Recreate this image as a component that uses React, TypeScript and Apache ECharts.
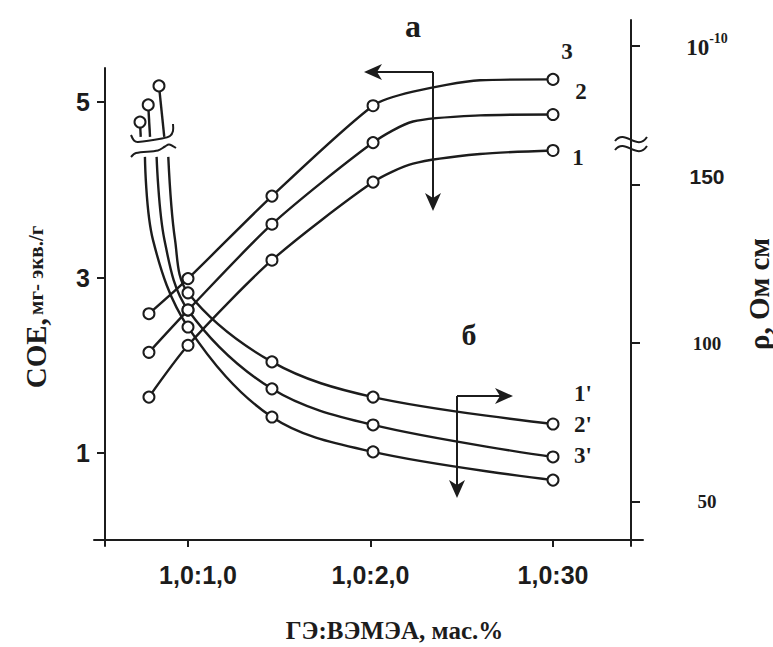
import React, { useEffect, useRef } from 'react';
import * as echarts from 'echarts';

// ---- axis ticks / labels ----
const xTickValues = [1, 2, 3];
const xTickLabels = ['1,0:1,0', '1,0:2,0', '1,0:30'];
const coeTicks = [1, 3, 5];
const rhoTicks = [50, 100, 150];
const rhoBreakTick = 194; // "10^-10" mark above the axis break

// ---- curves "а": СОЕ (left axis) ----
const coeX = [0.786, 1.0, 1.46, 2.014, 2.233, 2.6, 3.0];
const coeMarked = [true, true, true, true, false, false, true];
const coe1 = [1.64, 2.23, 3.2, 4.09, 4.3, 4.41, 4.45];
const coe2 = [2.15, 2.63, 3.61, 4.54, 4.78, 4.85, 4.86];
const coe3 = [2.59, 2.99, 3.93, 4.96, 5.12, 5.25, 5.26];

// ---- curves "б": ρ (right axis), part below the break ----
const rho1X = [0.892, 0.929, 1.0, 1.46, 2.014, 3.0];
const rho1 = [158.8, 132.6, 115.9, 94.1, 83.0, 74.5];
const rho2X = [0.828, 0.871, 1.0, 1.46, 2.014, 3.0];
const rho2 = [158.8, 132.6, 110.5, 85.6, 74.2, 64.1];
const rho3X = [0.764, 0.808, 1.0, 1.46, 2.014, 3.0];
const rho3 = [158.8, 132.6, 105.1, 76.7, 65.7, 56.8];
// part above the break (first point is the measured one)
const rho1TopX = [0.841, 0.87];
const rho1Top = [181.2, 165.1];
const rho2TopX = [0.782, 0.792];
const rho2Top = [175.2, 165.1];
const rho3TopX = [0.737, 0.741];
const rho3Top = [169.8, 165.1];

const INK = '#1c1c1c';
const SERIF = '"Liberation Serif", "DejaVu Serif", serif';
const SANS = '"Liberation Sans", Arial, sans-serif';

const lineBase = {
  type: 'line',
  symbol: 'circle',
  symbolSize: 11,
  showAllSymbol: true,
  lineStyle: { color: INK, width: 2.4 },
  itemStyle: { color: '#fff', borderColor: INK, borderWidth: 2 },
  emphasis: { disabled: true },
  z: 3,
};

function coeSeries(name: string, ys: number[]) {
  return {
    ...lineBase,
    name,
    xAxisIndex: 0,
    yAxisIndex: 0,
    smooth: 0.25,
    data: coeX.map((x, i) => (coeMarked[i] ? [x, ys[i]] : { value: [x, ys[i]], symbol: 'none' })),
  };
}

function rhoLow(name: string, xs: number[], ys: number[]) {
  return {
    ...lineBase,
    name,
    xAxisIndex: 1,
    yAxisIndex: 1,
    smooth: 0.35,
    data: xs.map((x, i) => (i < 2 ? { value: [x, ys[i]], symbol: 'none' } : [x, ys[i]])),
  };
}

function rhoTop(name: string, xs: number[], ys: number[]) {
  return {
    ...lineBase,
    name,
    xAxisIndex: 1,
    yAxisIndex: 1,
    data: xs.map((x, i) => (i > 0 ? { value: [x, ys[i]], symbol: 'none' } : [x, ys[i]])),
  };
}

const txt = (text: string, x: number, y: number, size: number, font = SERIF) => ({
  type: 'text',
  x,
  y,
  style: {
    text,
    fontFamily: font,
    fontWeight: 'bold',
    fontSize: size,
    fill: INK,
    align: 'center',
    verticalAlign: 'middle',
  },
  z: 10,
});

const seg = (x1: number, y1: number, x2: number, y2: number, w = 2) => ({
  type: 'line',
  shape: { x1, y1, x2, y2 },
  style: { stroke: INK, lineWidth: w },
  z: 10,
});

const head = (pts: number[][]) => ({
  type: 'polygon',
  shape: { points: pts },
  style: { fill: INK },
  z: 10,
});

export default function App() {
  const ref = useRef<HTMLDivElement>(null);

  useEffect(() => {
    if (!ref.current) return;
    const chart = echarts.init(ref.current, undefined, { renderer: 'svg' });

    const xMinIn = 0.5452;
    const xMaxIn = 3.4274;
    const xLabelStyle = { fontFamily: SANS, fontWeight: 'bold', fontSize: 25, color: INK };

    const option: any = {
      animation: false,
      backgroundColor: '#fff',
      grid: [
        { left: 105, top: 68, width: 526, height: 478, outerBoundsMode: 'none' },
        { left: 105, top: 20, width: 526, height: 526, outerBoundsMode: 'none' },
        { left: 94, top: 20, width: 549, height: 520, outerBoundsMode: 'none' },
      ],
      xAxis: [
        { type: 'value', gridIndex: 0, min: xMinIn, max: xMaxIn, show: false },
        { type: 'value', gridIndex: 1, min: xMinIn, max: xMaxIn, show: false },
        {
          type: 'value',
          gridIndex: 2,
          min: 0.4849,
          max: 3.4932,
          axisLine: { onZero: false, lineStyle: { color: INK, width: 2 } },
          axisTick: { customValues: xTickValues, length: 7, lineStyle: { color: INK, width: 2 } },
          axisLabel: {
            customValues: xTickValues,
            formatter: (v: number) => {
              const i = xTickValues.indexOf(Math.round(v));
              if (i < 0) return '';
              return (i === 0 ? '{f|' : '{n|') + xTickLabels[i] + '}';
            },
            margin: 22,
            rich: {
              f: { ...xLabelStyle, padding: [0, 0, 0, 20] },
              n: { ...xLabelStyle },
            },
          },
          splitLine: { show: false },
          name: 'ГЭ:ВЭМЭА, мас.%',
          nameLocation: 'middle',
          nameGap: 78,
          nameTextStyle: {
            color: INK,
            fontFamily: SERIF,
            fontWeight: 'bold',
            fontSize: 25,
            padding: [0, 0, 0, 52],
          },
        },
      ],
      yAxis: [
        {
          type: 'value',
          gridIndex: 0,
          position: 'left',
          min: -0.057,
          max: 5.39,
          axisLine: { show: true, onZero: false, lineStyle: { color: INK, width: 2 } },
          axisTick: { show: true, customValues: coeTicks, length: 8, lineStyle: { color: INK, width: 2 } },
          axisLabel: {
            customValues: coeTicks,
            margin: 15,
            color: INK,
            fontFamily: SANS,
            fontWeight: 'bold',
            fontSize: 25,
          },
          splitLine: { show: false },
          name: '{big|СОЕ,} {small|мг- экв./г}',
          nameLocation: 'middle',
          nameRotate: 90,
          nameGap: 55,
          nameTextStyle: {
            rich: {
              big: { fontFamily: SERIF, fontWeight: 'bold', fontSize: 29, color: INK },
              small: { fontFamily: SERIF, fontWeight: 'bold', fontSize: 21, color: INK },
            },
          },
        },
        {
          type: 'value',
          gridIndex: 1,
          position: 'right',
          min: 36,
          max: 202,
          axisLine: { show: true, onZero: false, lineStyle: { color: INK, width: 2 } },
          axisTick: {
            show: true,
            customValues: [...rhoTicks, rhoBreakTick],
            length: 9,
            lineStyle: { color: INK, width: 2 },
          },
          axisLabel: {
            customValues: [...rhoTicks, rhoBreakTick],
            margin: 76,
            align: 'center',
            formatter: (v: number) => {
              if (Math.abs(v - rhoBreakTick) < 0.5) return '{e|10}{sup|-10}';
              if (Math.abs(v - 150) < 0.5) return '{s|150}';
              return '{t|' + v + '}';
            },
            rich: {
              e: { fontFamily: SERIF, fontWeight: 'bold', fontSize: 23, color: INK, verticalAlign: 'bottom', lineHeight: 28 },
              sup: { fontFamily: SERIF, fontWeight: 'bold', fontSize: 14, color: INK, verticalAlign: 'top', lineHeight: 28 },
              s: { fontFamily: SANS, fontWeight: 'bold', fontSize: 21, color: INK, padding: [0, 0, 16, 0] },
              t: { fontFamily: SERIF, fontWeight: 'bold', fontSize: 19, color: INK },
            },
          },
          splitLine: { show: false },
          name: 'ρ, Ом см',
          nameLocation: 'middle',
          nameRotate: 90,
          nameGap: 113,
          nameTextStyle: {
            fontFamily: SERIF,
            fontWeight: 'bold',
            fontSize: 29,
            color: INK,
            padding: [0, 22, 0, 0],
          },
        },
        { type: 'value', gridIndex: 2, show: false, min: 0, max: 1 },
      ],
      series: [
        coeSeries('СОЕ 1', coe1),
        coeSeries('СОЕ 2', coe2),
        coeSeries('СОЕ 3', coe3),
        rhoLow("ρ 1'", rho1X, rho1),
        rhoLow("ρ 2'", rho2X, rho2),
        rhoLow("ρ 3'", rho3X, rho3),
        rhoTop("ρ 1' top", rho1TopX, rho1Top),
        rhoTop("ρ 2' top", rho2TopX, rho2Top),
        rhoTop("ρ 3' top", rho3TopX, rho3Top),
      ],
      graphic: [
        // group labels
        txt('а', 413, 26, 32),
        txt('б', 469, 334, 30),
        // curve numbers
        txt('3', 567, 51, 23),
        txt('2', 581, 91, 23),
        txt('1', 578, 157, 23),
        txt("1'", 583, 393, 23),
        txt("2'", 583, 424, 23),
        txt("3'", 583, 455, 23),
        // arrow "а": left and down
        seg(433, 72, 372, 72),
        seg(433, 72, 433, 202),
        head([[364, 72], [382, 64], [377, 72], [382, 80]]),
        head([[433, 211], [425, 193], [433, 198], [441, 193]]),
        // arrow "б": right and down
        seg(457, 396, 505, 396),
        seg(457, 396, 457, 489),
        head([[513, 396], [495, 388], [500, 396], [495, 404]]),
        head([[457, 498], [449, 480], [457, 485], [465, 480]]),
        // break marks on the ρ curves
        {
          type: 'polyline',
          shape: { points: [[131, 135], [134, 140.5], [138, 142], [162, 138.5], [170, 136], [173, 131], [173, 124]], smooth: 0.3 },
          style: { stroke: INK, lineWidth: 2, fill: 'none' },
          z: 10,
        },
        {
          type: 'polyline',
          shape: { points: [[131, 157], [136, 153], [158, 150.5], [165, 146.5], [169, 144.5], [176, 148]], smooth: 0.3 },
          style: { stroke: INK, lineWidth: 2, fill: 'none' },
          z: 10,
        },
        // break mark on the right axis
        {
          type: 'bezierCurve',
          shape: { x1: 615, y1: 141, cpx1: 625, cpy1: 128, cpx2: 637, cpy2: 152, x2: 647, y2: 137 },
          style: { stroke: INK, lineWidth: 2, fill: 'none' },
          z: 10,
        },
        {
          type: 'bezierCurve',
          shape: { x1: 615, y1: 150, cpx1: 625, cpy1: 137, cpx2: 637, cpy2: 161, x2: 647, y2: 146 },
          style: { stroke: INK, lineWidth: 2, fill: 'none' },
          z: 10,
        },
      ],
    };

    chart.setOption(option);
    return () => chart.dispose();
  }, []);

  return <div ref={ref} style={{ width: 773, height: 647, position: 'absolute', left: 0, top: 0 }} />;
}
